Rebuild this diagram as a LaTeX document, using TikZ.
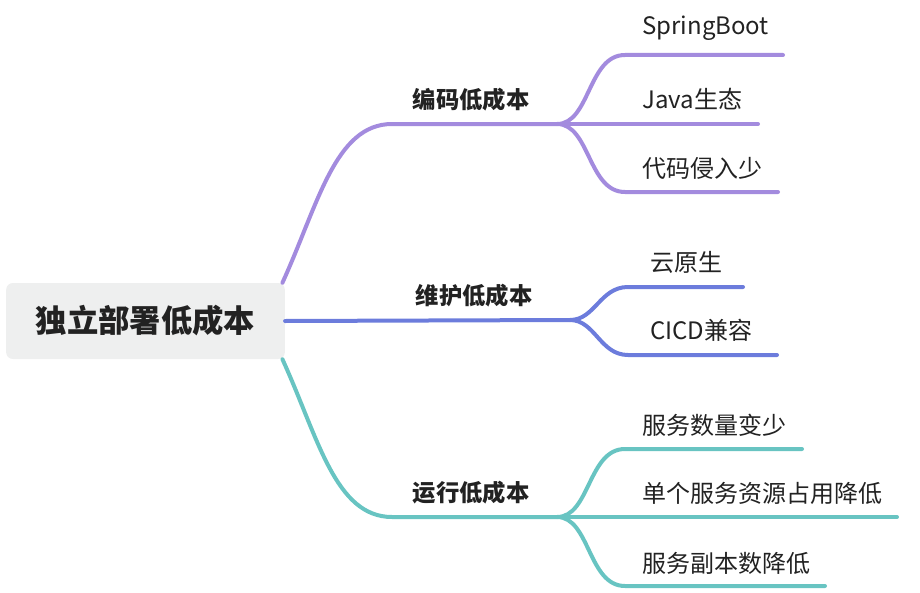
\documentclass[tikz,border=0pt]{standalone}
\usepackage{fontspec}
\setmainfont{Noto Sans CJK SC}
\definecolor{codepurple}{RGB}{163, 139, 222}
\definecolor{opsblue}{RGB}{108, 124, 220}
\definecolor{runteal}{RGB}{104, 196, 194}
\definecolor{rootgray}{RGB}{238, 239, 239}
\definecolor{textdark}{RGB}{34, 34, 34}

\tikzset{
  rootbox/.style={fill=rootgray, rounded corners=5pt, minimum width=209pt, minimum height=57pt, font=\fontsize{23.5}{23.5}\selectfont\bfseries},
  branchlabel/.style={font=\fontsize{17.5}{17.5}\selectfont\bfseries},
  leaflabel/.style={anchor=west, font=\fontsize{18}{18}\selectfont},
  limb/.style={line width=3pt, line cap=round}
}

\begin{document}
\begin{tikzpicture}[x=0.75pt, y=-0.75pt, every node/.style={text=textdark, inner sep=0pt}]
  \useasboundingbox (0,0) rectangle (920,592);

  % Nodes
  \node[rootbox] (root) at (145.5,321) {独立部署低成本};

  \node[branchlabel] (coding) at (471,100) {编码低成本};
  \node[branchlabel] (upkeep) at (474,296) {维护低成本};
  \node[branchlabel] (running) at (471,493) {运行低成本};

  \node[leaflabel] (spring) at (642,28) {SpringBoot};
  \node[leaflabel] (java) at (642,99) {Java生态};
  \node[leaflabel] (intrude) at (642,168) {代码侵入少};
  \node[leaflabel] (cloud) at (650,262) {云原生};
  \node[leaflabel] (cicd) at (650,330) {CICD兼容};
  \node[leaflabel] (fewer) at (642,425) {服务数量变少};
  \node[leaflabel] (single) at (642,493) {单个服务资源占用降低};
  \node[leaflabel] (replica) at (642,563) {服务副本数降低};

  % Forks and line ends
  \coordinate (forkA) at (557,124);
  \coordinate (forkB) at (570,320);
  \coordinate (forkC) at (557,517);
  \coordinate (springEnd) at (783,55);
  \coordinate (javaEnd) at (758,124);
  \coordinate (intrudeEnd) at (778,192);
  \coordinate (cloudEnd) at (743,287);
  \coordinate (cicdEnd) at (777,355);
  \coordinate (fewerEnd) at (802,449);
  \coordinate (singleEnd) at (897,517);
  \coordinate (replicaEnd) at (825,586);

  % Branches
  \draw[limb, codepurple] ([xshift=-2pt]root.north east) .. controls (318,205) and (335,124) .. (392,124) -- (forkA);
  \draw[limb, opsblue] (root.east) -- (forkB);
  \draw[limb, runteal] ([xshift=-2pt]root.south east) .. controls (318,437) and (335,517) .. (392,517) -- (forkC);

  % Leaves
  \draw[limb, codepurple] (forkA) .. controls (590,124) and (588,55) .. (625,55) -- (springEnd);
  \draw[limb, codepurple] (forkA) -- (javaEnd);
  \draw[limb, codepurple] (forkA) .. controls (590,124) and (588,192) .. (625,192) -- (intrudeEnd);
  \draw[limb, opsblue] (forkB) .. controls (595,320) and (600,287) .. (628,287) -- (cloudEnd);
  \draw[limb, opsblue] (forkB) .. controls (595,320) and (600,355) .. (628,355) -- (cicdEnd);
  \draw[limb, runteal] (forkC) .. controls (590,517) and (588,449) .. (625,449) -- (fewerEnd);
  \draw[limb, runteal] (forkC) -- (singleEnd);
  \draw[limb, runteal] (forkC) .. controls (590,517) and (588,586) .. (625,586) -- (replicaEnd);
\end{tikzpicture}
\end{document}
